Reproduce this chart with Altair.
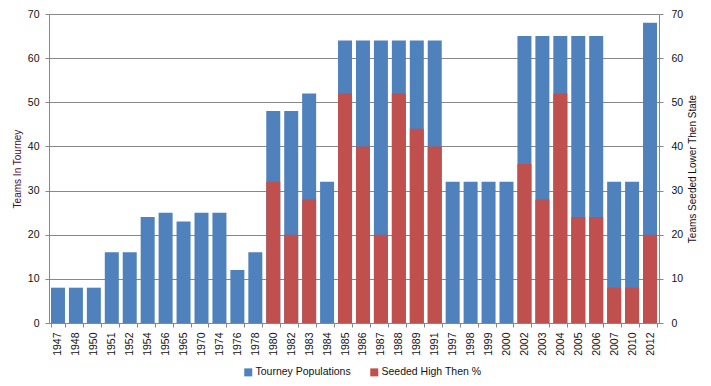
import altair as alt
import pandas as pd

years = ["1947", "1948", "1950", "1951", "1952", "1954", "1956", "1965", "1970", "1974",
         "1976", "1978", "1980", "1982", "1983", "1984", "1985", "1986", "1987", "1988",
         "1989", "1991", "1997", "1998", "1999", "2000", "2002", "2003", "2004", "2005",
         "2006", "2007", "2010", "2012"]
tourney = [8, 8, 8, 16, 16, 24, 25, 23, 25, 25,
           12, 16, 48, 48, 52, 32, 64, 64, 64, 64,
           64, 64, 32, 32, 32, 32, 65, 65, 65, 65,
           65, 32, 32, 68]
seeded = [0, 0, 0, 0, 0, 0, 0, 0, 0, 0,
          0, 0, 32, 20, 28, 0, 52, 40, 20, 52,
          44, 40, 0, 0, 0, 0, 36, 28, 52, 24,
          24, 8, 8, 20]
series = ["Tourney Populations", "Seeded High Then %"]
colors = ["#4F81BD", "#C0504D"]
ticks = [0, 10, 20, 30, 40, 50, 60, 70]

df = pd.DataFrame({"year": years, "tourney": tourney, "seeded": seeded})

FONT = "Liberation Sans"
GRID = "#878787"

xenc = alt.X("year:N", sort=None, title=None,
             scale=alt.Scale(paddingInner=0.22, paddingOuter=0.11),
             axis=alt.Axis(labelAngle=270, labelFont=FONT, labelFontSize=10.5,
                           labelColor="#111", labelPadding=5, tickSize=4,
                           tickBand="extent", tickColor=GRID, domainColor=GRID))

colscale = alt.Scale(domain=series, range=colors)
legend = alt.Legend(title=None, orient="none", direction="horizontal",
                    legendX=194, legendY=353, symbolType="square", symbolSize=64,
                    symbolStrokeWidth=0, labelFont=FONT, labelFontSize=10.5,
                    labelColor="#111", labelOffset=2, columnPadding=18, padding=0)

blue = alt.Chart(df).transform_calculate(series="'" + series[0] + "'").mark_bar().encode(
    x=xenc,
    y=alt.Y("tourney:Q", title="Teams In Tourney",
            scale=alt.Scale(domain=[0, 70], nice=False),
            axis=alt.Axis(values=ticks, orient="left", grid=True, gridColor=GRID,
                          gridOpacity=1, domainColor=GRID, tickColor=GRID, tickSize=4,
                          labelFont=FONT, labelFontSize=10.5, labelColor="#111",
                          labelPadding=6, titleFont=FONT, titleFontSize=10,
                          titleFontWeight="normal", titleColor="#4A0E38",
                          titlePadding=5)),
    color=alt.Color("series:N", scale=colscale, legend=legend),
)

red = alt.Chart(df).transform_calculate(series="'" + series[1] + "'").mark_bar().encode(
    x=xenc,
    y=alt.Y("seeded:Q", title="Teams Seeded Lower Then State",
            scale=alt.Scale(domain=[0, 70], nice=False),
            axis=alt.Axis(values=ticks, orient="right", grid=False,
                          domainColor=GRID, tickColor=GRID, tickSize=4,
                          labelFont=FONT, labelFontSize=10.5, labelColor="#111",
                          labelPadding=8, titleFont=FONT, titleFontSize=10,
                          titleFontWeight="normal", titleColor="#111",
                          titleAngle=270, titleBaseline="top", titlePadding=5)),
    color=alt.Color("series:N", scale=colscale, legend=legend),
)

chart = alt.layer(blue, red).resolve_scale(y="independent").properties(
    width=610, height=309,
    autosize=alt.AutoSizeParams(type="none"),
    padding={"left": 41, "top": 6, "right": 44, "bottom": 55},
).configure_view(stroke=None)

chart.save("out.html", embed_options={"renderer": "svg", "actions": False})
